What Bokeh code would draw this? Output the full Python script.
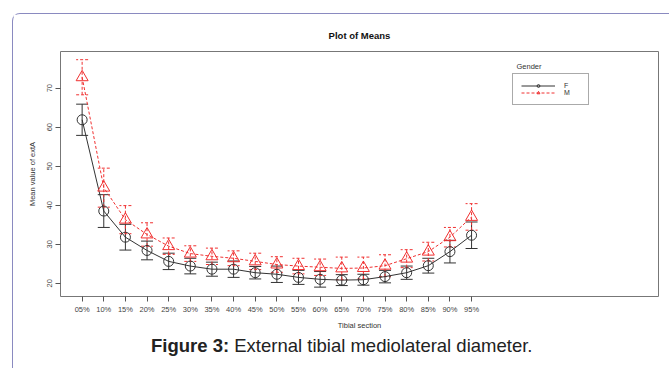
from bokeh.plotting import figure
from bokeh.layouts import column
from bokeh.models import (Range1d, FixedTicker, ColumnDataSource, Whisker, TeeHead,
                          Legend, LegendItem, Label, Title, Div)
from bokeh.embed import file_html
from bokeh.resources import INLINE

sections = ["05%", "10%", "15%", "20%", "25%", "30%", "35%", "40%", "45%", "50%",
            "55%", "60%", "65%", "70%", "75%", "80%", "85%", "90%", "95%"]
f_mean = [61.9, 38.5, 31.8, 28.4, 25.6, 24.4, 23.6, 23.6, 22.7, 22.3,
          21.5, 21.0, 20.8, 20.9, 21.7, 22.7, 24.5, 28.1, 32.3]
f_err = [4.0, 4.2, 3.3, 2.4, 2.1, 2.0, 1.8, 2.1, 1.6, 2.1,
         1.8, 2.0, 1.4, 1.4, 1.6, 1.7, 1.9, 2.9, 3.4]
m_mean = [72.8, 44.5, 36.3, 32.5, 29.5, 27.6, 26.9, 26.4, 25.6, 24.8,
          24.4, 24.1, 23.8, 23.9, 24.5, 26.3, 28.1, 31.8, 37.0]
m_err = [4.5, 5.0, 3.6, 3.0, 2.1, 2.0, 2.1, 1.9, 2.1, 2.0,
         2.0, 2.1, 2.9, 2.8, 2.8, 2.3, 2.4, 2.5, 3.4]
y_ticks = [20, 30, 40, 50, 60, 70]

FONT = "Liberation Sans"
BLACK = "#333333"
RED = "#f03030"

xpos = list(range(1, len(sections) + 1))
src = ColumnDataSource(dict(
    x=xpos, f=f_mean, m=m_mean,
    fl=[a - b for a, b in zip(f_mean, f_err)], fu=[a + b for a, b in zip(f_mean, f_err)],
    ml=[a - b for a, b in zip(m_mean, m_err)], mu=[a + b for a, b in zip(m_mean, m_err)],
))

p = figure(width=655, height=320, output_backend="svg", toolbar_location=None,
           x_range=Range1d(0, 27.64), y_range=Range1d(16.6, 79.4),
           min_border_left=47, min_border_right=10, min_border_top=37, min_border_bottom=38)
p.background_fill_color = "white"
p.border_fill_color = "white"
p.outline_line_color = "#777777"
p.outline_line_width = 1
p.xgrid.visible = False
p.ygrid.visible = False

p.title = Title(text="Plot of Means", align="center", text_font=FONT,
                text_font_size="9.5px", text_font_style="bold", text_color="#111111",
                standoff=21)

for ax in (p.xaxis[0], p.yaxis[0]):
    ax.axis_line_color = None
    ax.major_tick_line_color = "#555555"
    ax.major_tick_out = 5
    ax.major_tick_in = 0
    ax.minor_tick_line_color = None
    ax.major_label_text_font = FONT
    ax.major_label_text_font_size = "7.5px"
    ax.major_label_text_color = "#444444"
    ax.axis_label_text_font = FONT
    ax.axis_label_text_font_size = "7.5px"
    ax.axis_label_text_font_style = "normal"
    ax.axis_label_text_color = "#333333"

p.xaxis.ticker = FixedTicker(ticks=xpos)
p.xaxis.major_label_overrides = {x: s for x, s in zip(xpos, sections)}
p.xaxis.major_label_standoff = 3
p.xaxis.axis_label = "Tibial section"
p.xaxis.axis_label_standoff = 4

p.yaxis.ticker = FixedTicker(ticks=y_ticks)
p.yaxis.major_label_orientation = "vertical"
p.yaxis.major_label_standoff = 3
p.yaxis.axis_label = "Mean value of extA"
p.yaxis.axis_label_standoff = 8

# error bars
p.add_layout(Whisker(base="x", lower="fl", upper="fu", source=src, dimension="height",
                     line_color=BLACK, line_width=1,
                     upper_head=TeeHead(size=12, line_color=BLACK, line_width=1),
                     lower_head=TeeHead(size=12, line_color=BLACK, line_width=1)))
p.add_layout(Whisker(base="x", lower="ml", upper="mu", source=src, dimension="height",
                     line_color=RED, line_width=1, line_dash="3 2",
                     upper_head=TeeHead(size=12, line_color=RED, line_width=1, line_dash="3 2"),
                     lower_head=TeeHead(size=12, line_color=RED, line_width=1, line_dash="3 2")))

fl = p.line("x", "f", source=src, line_color=BLACK, line_width=1)
fs = p.scatter("x", "f", source=src, marker="circle", size=10, fill_color=None,
               line_color=BLACK, line_width=1)
ml = p.line("x", "m", source=src, line_color=RED, line_width=1, line_dash="3 2")
ms = p.scatter("x", "m", source=src, marker="triangle", size=12, fill_color=None,
               line_color=RED, line_width=1)

legend = Legend(items=[LegendItem(label="F", renderers=[fl, fs]),
                       LegendItem(label="M", renderers=[ml, ms])],
                location=(452, 191), margin=0, padding=8, spacing=0,
                glyph_width=34, glyph_height=7, label_height=7, label_width=16,
                label_standoff=9, label_text_font=FONT, label_text_font_size="7px",
                label_text_color="#333333",
                border_line_color="#555555", border_line_width=1,
                background_fill_color="white", background_fill_alpha=1)
p.add_layout(legend)

p.add_layout(Label(x=456, y=230, x_units="screen", y_units="screen", text="Gender",
                   text_font=FONT, text_font_size="7.5px", text_color="#333333",
                   text_baseline="middle", text_align="left"))

caption = Div(text="<b>Figure 3:</b> External tibial mediolateral diameter.",
              width=655, height=30,
              styles={"font-family": "'Liberation Sans', Arial, sans-serif",
                      "font-size": "18.5px", "line-height": "14px", "color": "#222222",
                      "text-indent": "133px", "white-space": "nowrap"})

layout = column(p, caption, margin=(13, 0, 0, 12), spacing=0,
                styles={"border-left": "1.5px solid #8a8ac0",
                        "border-top": "1.5px solid #8a8ac0",
                        "border-top-left-radius": "8px",
                        "background-color": "white"})

open("out.html", "w").write(file_html(layout, INLINE))
